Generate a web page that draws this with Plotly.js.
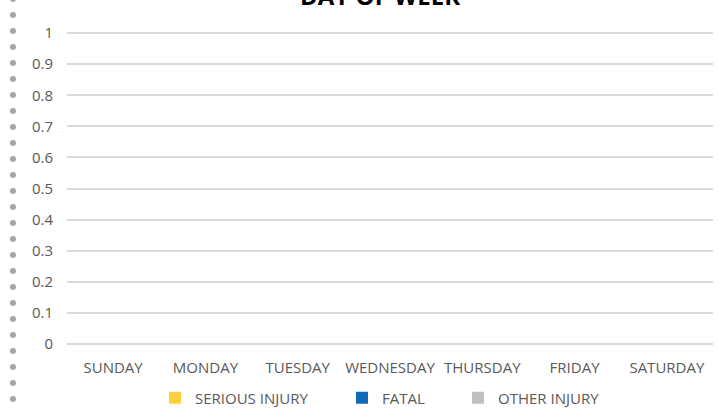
<!DOCTYPE html>
<html>
<head>
<meta charset="utf-8">
<script src="https://cdn.plot.ly/plotly-3.0.1.min.js"></script>
<style>
  html, body { margin: 0; padding: 0; background: #fff; }
  #chart { width: 718px; height: 411px; }
</style>
</head>
<body>
<div id="chart"></div>
<script>
// ---- data ----
const days = ["SUNDAY", "MONDAY", "TUESDAY", "WEDNESDAY", "THURSDAY", "FRIDAY", "SATURDAY"];
const seriousInjury = [0, 0, 0, 0, 0, 0, 0];
const fatal = [0, 0, 0, 0, 0, 0, 0];
const otherInjury = [0, 0, 0, 0, 0, 0, 0];
const seriesNames = ["SERIOUS INJURY", "FATAL", "OTHER INJURY"];
const seriesColors = ["#FFCF3F", "#106AB6", "#BFBFBF"];
const chartTitle = "DAY OF WEEK";

const W = 718, H = 411;
const margin = { l: 67, r: 5, t: 30, b: 64, autoexpand: false };
const plotW = W - margin.l - margin.r;
const plotH = H - margin.t - margin.b;

const legendIds = ["legend", "legend2", "legend3"];
const traces = [seriousInjury, fatal, otherInjury].map((vals, i) => ({
  type: "bar",
  x: days,
  y: vals,
  name: seriesNames[i],
  legend: legendIds[i],
  marker: { color: seriesColors[i], line: { width: 0 } },
  hoverinfo: "x+y+name"
}));

// decorative dotted border on the left edge
const shapes = [];
for (let py = -1; py <= H; py += 16) {
  shapes.push({
    type: "circle",
    xref: "paper", yref: "paper",
    xsizemode: "pixel", ysizemode: "pixel",
    xanchor: (13 - margin.l) / plotW,
    yanchor: (margin.t + plotH - py) / plotH,
    x0: -3, x1: 3, y0: -3, y1: 3,
    fillcolor: "#A6A6A6",
    line: { width: 0 },
    layer: "above"
  });
}

function legendAt(px) {
  return {
    orientation: "h",
    x: (px - margin.l) / plotW, xanchor: "left",
    y: (margin.t + plotH - 398) / plotH, yanchor: "middle",
    font: { size: 15, color: "#595959" },
    itemwidth: 30,
    bgcolor: "rgba(0,0,0,0)"
  };
}

const layout = {
  width: W, height: H,
  margin: margin,
  paper_bgcolor: "#ffffff",
  plot_bgcolor: "#ffffff",
  font: { family: "Open Sans, sans-serif", size: 15, color: "#595959" },
  showlegend: true,
  barmode: "group",
  xaxis: {
    type: "category",
    showgrid: false,
    zeroline: false,
    showline: false,
    ticks: "",
    ticklabelstandoff: 10,
    tickfont: { size: 15, color: "#595959" },
    fixedrange: true
  },
  yaxis: {
    range: [-0.01, 1.01],
    dtick: 0.1,
    tick0: 0,
    showgrid: true,
    gridcolor: "#D9D9D9",
    gridwidth: 1.5,
    zeroline: false,
    showline: false,
    ticks: "",
    ticklabelstandoff: 13,
    tickfont: { size: 15, color: "#595959" },
    fixedrange: true
  },
  legend: legendAt(155),
  legend2: legendAt(342),
  legend3: legendAt(458),
  annotations: [{
    text: "<b>" + chartTitle + "</b>",
    xref: "paper", yref: "paper",
    x: 0.485, xanchor: "center",
    y: 1, yanchor: "bottom",
    yshift: 16,
    showarrow: false,
    font: { family: "Open Sans, sans-serif", size: 24, color: "#000000" }
  }],
  shapes: shapes
};

Plotly.newPlot("chart", traces, layout, { displayModeBar: false });
</script>
</body>
</html>
